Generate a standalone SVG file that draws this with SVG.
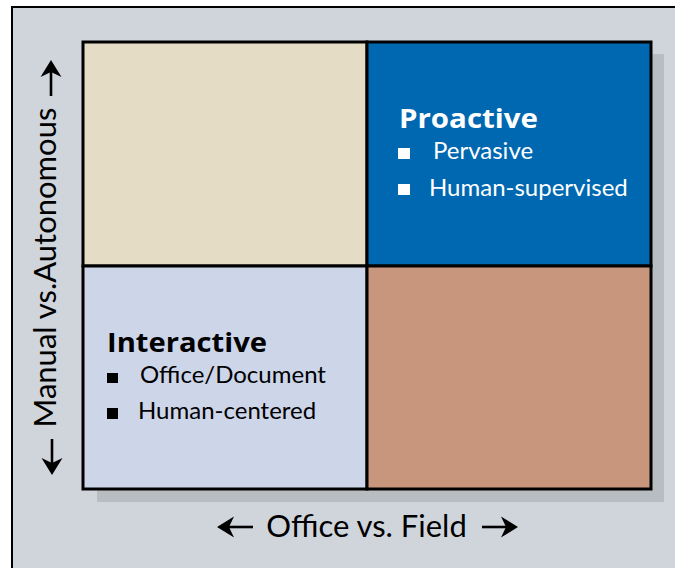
<svg xmlns="http://www.w3.org/2000/svg" width="675" height="568" viewBox="0 0 675 568">
<style>
.q{stroke:#000;stroke-width:3}
.h{font-family:"Open Sans",Lato,"DejaVu Sans",sans-serif;font-weight:700;font-size:27px}
.t{font-family:Lato,"Open Sans","DejaVu Sans",sans-serif;font-size:24px}
.ax{font-family:Lato,"Open Sans","DejaVu Sans",sans-serif;font-size:31px;fill:#000}
</style>
<defs>
<g id="arrow">
<line x1="-36" y1="0" x2="-8" y2="0" stroke="#000" stroke-width="2.6"/>
<path d="M0,0 L-17,-10.5 L-12,0 L-17,10.5 Z" fill="#000"/>
</g>
</defs>
<rect width="675" height="568" fill="#fff"/>
<rect id="panel" x="12" y="7" width="680" height="580" fill="#D0D5DC" stroke="#000" stroke-width="2"/>
<rect id="shadow" x="97" y="54" width="567" height="448" fill="#B8BDC1"/>
<g id="q-top-left"><rect class="q" x="83" y="42" width="284" height="224" fill="#E5DCC5"/></g>
<g id="q-proactive">
<rect class="q" x="367" y="42" width="284" height="224" fill="#0068B0"/>
<text class="h" x="399" y="128" fill="#fff" textLength="139" lengthAdjust="spacingAndGlyphs">Proactive</text>
<rect x="398" y="148" width="12" height="11" fill="#fff"/>
<text class="t" x="433" y="159" fill="#fff">Pervasive</text>
<rect x="398" y="184" width="12" height="11" fill="#fff"/>
<text class="t" x="429" y="196" fill="#fff">Human-supervised</text>
</g>
<g id="q-interactive">
<rect class="q" x="83" y="266" width="284" height="223" fill="#CDD5E9"/>
<text class="h" x="107" y="352" fill="#000" textLength="160" lengthAdjust="spacingAndGlyphs">Interactive</text>
<rect x="107" y="373" width="11" height="10" fill="#000"/>
<text class="t" x="140" y="383" fill="#000">Office/Document</text>
<rect x="107" y="408" width="11" height="11" fill="#000"/>
<text class="t" x="138" y="419" fill="#000">Human-centered</text>
</g>
<g id="q-bottom-right"><rect class="q" x="367" y="266" width="284" height="223" fill="#C8957D"/></g>
<g id="axis-x">
<use href="#arrow" transform="translate(217,527) rotate(180)"/>
<text class="ax" x="366.5" y="537" text-anchor="middle">Office vs. Field</text>
<use href="#arrow" transform="translate(518,527)"/>
</g>
<g id="axis-y">
<use href="#arrow" transform="translate(51,60) rotate(-90)"/>
<text class="ax" transform="translate(56,267.5) rotate(-90)" text-anchor="middle">Manual vs.Autonomous</text>
<use href="#arrow" transform="translate(52,475) rotate(90)"/>
</g>
</svg>
